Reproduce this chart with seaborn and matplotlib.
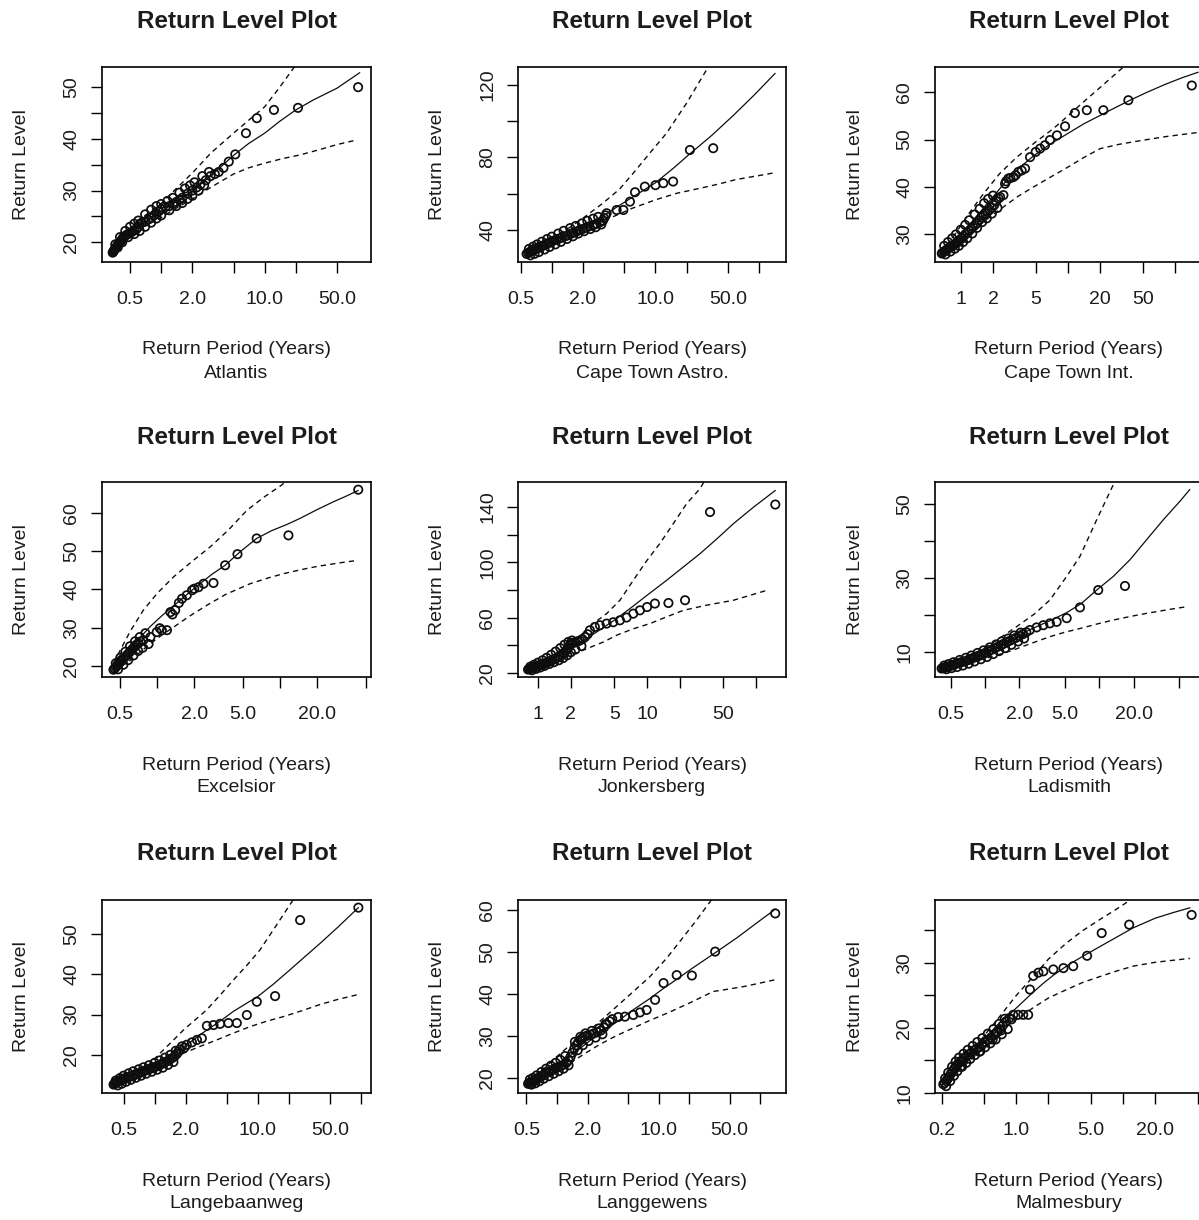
import matplotlib
matplotlib.use("Agg")
import matplotlib.pyplot as plt
from matplotlib.ticker import NullLocator
import seaborn as sns
import pandas as pd

# ---------------- data ----------------
stations = ["Atlantis", "Cape Town Astro.", "Cape Town Int.",
            "Excelsior", "Jonkersberg", "Ladismith",
            "Langebaanweg", "Langgewens", "Malmesbury"]

# Atlantis
atl_obs_T = [0.34, 0.345, 0.35, 0.355, 0.36, 0.37, 0.375, 0.38, 0.39, 0.40, 0.41, 0.42, 0.43, 0.44, 0.46,
             0.48, 0.50, 0.52, 0.55, 0.58, 0.60, 0.62, 0.65, 0.70, 0.75, 0.80, 0.85, 0.90, 0.95, 1.0,
             1.1, 1.2, 1.3, 1.4, 1.5, 1.6, 1.8, 2.0, 2.2, 2.4, 2.7, 3.0, 3.3, 3.6, 4.0,
             4.5, 5.2, 6.6, 8.4, 12.3, 21, 80]
atl_obs_y = [18.0, 18.2, 18.4, 18.6, 18.8, 19.0, 19.3, 19.5, 19.8, 20.0, 20.3, 20.6, 20.9, 21.1, 21.4,
             21.6, 21.8, 22.0, 22.3, 22.6, 23.0, 23.5, 23.8, 24.0, 24.4, 24.8, 25.2, 25.6, 26.0, 26.4,
             26.8, 27.0, 27.4, 27.8, 28.2, 28.6, 29.4, 30.0, 30.6, 31.2, 32.0, 32.8, 33.2, 33.6, 34.4,
             35.6, 37.0, 41.1, 44.0, 45.6, 46.0, 50.0]
atl_band_T = [0.36, 0.40, 0.45, 0.5, 0.55, 0.6, 0.7, 0.8, 0.9, 1.0, 1.15, 1.3, 1.5, 1.7, 1.9, 2.1, 2.5, 2.9,
              0.38, 0.42, 0.48, 0.55, 0.62, 0.7, 0.8, 0.9, 1.0, 1.2, 1.4, 1.6, 1.8, 2.0, 2.3, 2.6]
atl_band_y = [19.6, 21.0, 22.2, 23.0, 23.6, 24.2, 25.4, 26.3, 27.0, 27.4, 28.0, 28.6, 29.6, 30.4, 31.0, 31.6, 32.8, 33.6,
              19.0, 20.0, 21.0, 21.6, 22.2, 23.0, 23.8, 24.6, 25.2, 26.2, 27.0, 27.6, 28.4, 29.0, 30.0, 31.0]
atl_fit_T = [0.34, 0.4, 0.5, 0.7, 1, 1.4, 2, 3, 5, 7, 10, 14, 20, 30, 50, 83]
atl_fit_y = [18.1, 19.4, 21.6, 23.9, 25.9, 27.9, 29.9, 32.8, 36.8, 39.1, 41.1, 43.4, 45.6, 47.6, 49.8, 52.8]
atl_up_T = [0.34, 0.5, 0.7, 1, 1.4, 2, 3, 5, 7, 10, 14, 20, 40, 83]
atl_up_y = [18.3, 22.5, 25.2, 27.5, 30.4, 33.4, 37.2, 41.1, 43.6, 46.2, 50.0, 54.3, 64.0, 78.0]
atl_lo_T = [0.34, 0.5, 0.7, 1, 1.4, 2, 3, 5, 7, 10, 15, 22, 35, 50, 78]
atl_lo_y = [17.9, 21.2, 23.2, 24.8, 26.6, 28.4, 30.6, 33.2, 34.4, 35.3, 36.2, 36.9, 38.0, 38.9, 39.8]

# Cape Town Astro.
cta_obs_T = [0.57, 0.59, 0.61, 0.63, 0.65, 0.67, 0.70, 0.73, 0.76, 0.80, 0.84, 0.88, 0.93, 0.98, 1.03,
             1.1, 1.17, 1.25, 1.33, 1.42, 1.52, 1.62, 1.74, 1.87, 2.0, 2.15, 2.3, 2.5, 2.7, 2.9,
             3.1, 3.2, 3.3, 3.38, 4.22, 4.9, 5.67, 6.35, 7.9, 10, 11.9, 14.8, 21.5, 36.1]
cta_obs_y = [26.8, 27.3, 27.8, 28.2, 28.6, 29.0, 29.5, 30.0, 30.5, 31.0, 31.6, 32.2, 32.8, 33.4, 34.0,
             34.6, 35.2, 35.8, 36.4, 37.0, 37.8, 38.5, 39.2, 40.0, 40.6, 41.3, 42.0, 42.6, 43.4, 44.2,
             45.0, 46.5, 48.0, 49.2, 51.0, 51.0, 55.6, 60.8, 63.9, 64.7, 65.8, 66.7, 84.1, 85.1]
cta_band_T = [0.6, 0.66, 0.72, 0.8, 0.9, 1.0, 1.15, 1.3, 1.5, 1.7, 1.95, 2.2, 2.5, 2.8,
              0.62, 0.68, 0.75, 0.85, 0.95, 1.08, 1.22, 1.4, 1.6, 1.8, 2.05, 2.35, 2.65, 3.0]
cta_band_y = [29.5, 30.8, 32.0, 33.5, 35.0, 36.3, 38.0, 39.5, 41.0, 42.2, 43.6, 45.0, 46.2, 47.2,
              26.0, 26.8, 27.8, 29.2, 30.6, 32.0, 33.4, 35.0, 36.5, 38.0, 39.3, 40.5, 41.5, 43.0]
cta_fit_T = [0.57, 1, 2, 3, 4.2, 6.5, 10, 15, 21.5, 35, 56, 90, 143]
cta_fit_y = [26.8, 33.4, 41.2, 47.0, 52.5, 59.3, 66.0, 74.2, 82.0, 92.2, 103.0, 114.5, 126.4]
cta_up_T = [0.57, 1, 1.5, 2, 3.1, 4.5, 6.1, 9, 12.8, 20, 32.4, 60, 143]
cta_up_y = [27.2, 35.5, 41.5, 46.5, 54.7, 62.5, 71.3, 83.0, 93.4, 110.0, 130.0, 160.0, 215.0]
cta_lo_T = [0.57, 1, 1.5, 2, 2.8, 3.9, 6, 10, 16, 27, 40, 60, 100, 143]
cta_lo_y = [26.4, 32.3, 36.5, 39.8, 43.8, 47.3, 52.0, 56.6, 60.2, 63.0, 65.2, 67.8, 70.0, 71.6]

# Cape Town Int.
cti_obs_T = [0.665, 0.68, 0.70, 0.72, 0.74, 0.76, 0.78, 0.80, 0.83, 0.86, 0.89, 0.92, 0.95, 0.98, 1.02,
             1.06, 1.10, 1.15, 1.2, 1.25, 1.3, 1.36, 1.42, 1.48, 1.55, 1.62, 1.7, 1.78, 1.86, 1.95,
             2.05, 2.15, 2.25, 2.33, 2.5, 2.59, 2.78, 3.1, 3.45, 3.98, 4.43, 5.0, 5.5, 6.1, 6.8,
             7.9, 9.4, 11.6, 15, 21.4, 36.6, 143, 2.65, 2.9, 3.25, 3.7]
cti_obs_y = [26.0, 26.2, 26.4, 26.6, 26.8, 27.0, 27.2, 27.4, 27.6, 27.8, 28.0, 28.3, 28.6, 28.9, 29.2,
             29.6, 30.0, 30.4, 30.8, 31.2, 31.6, 32.0, 32.4, 33.0, 33.6, 34.0, 34.4, 34.8, 35.2, 35.6,
             36.2, 37.0, 37.6, 37.9, 38.3, 40.7, 41.8, 42.1, 43.2, 43.9, 46.3, 47.4, 48.1, 48.8, 49.9,
             50.9, 52.8, 55.6, 56.2, 56.2, 58.3, 61.4, 41.2, 41.9, 42.5, 43.5]
cti_band_T = [0.7, 0.76, 0.83, 0.9, 1.0, 1.1, 1.2, 1.35, 1.5, 1.65, 1.8, 2.0,
              0.72, 0.8, 0.88, 0.96, 1.05, 1.15, 1.28, 1.42, 1.58, 1.75, 1.95, 2.2]
cti_band_y = [27.6, 28.4, 29.2, 30.0, 31.0, 32.0, 33.0, 34.2, 35.4, 36.6, 37.5, 38.2,
              25.8, 26.4, 27.0, 27.6, 28.4, 29.2, 30.2, 31.4, 32.6, 33.4, 34.4, 35.6]
cti_fit_T = [0.665, 0.8, 1, 1.25, 1.63, 2.1, 2.7, 3.5, 4.8, 7, 10, 14, 20, 28, 38, 55, 80, 115, 164]
cti_fit_y = [26.0, 28.0, 30.2, 32.4, 35.6, 38.5, 41.5, 44.0, 46.6, 49.2, 51.3, 53.3, 55.1, 56.8, 58.3, 60.0,
             61.6, 63.0, 64.2]
cti_up_T = [0.665, 0.85, 1.2, 1.63, 2.3, 3.33, 5, 7.3, 10, 13.9, 20, 32.9, 80, 164]
cti_up_y = [26.2, 29.5, 34.5, 38.6, 42.8, 46.3, 49.5, 52.3, 55.0, 57.9, 61.0, 65.3, 75.0, 82.0]
cti_lo_T = [0.665, 1, 1.3, 1.6, 2.0, 2.5, 3.4, 4.76, 7, 10, 14, 20, 30, 40, 80, 164]
cti_lo_y = [25.8, 29.0, 31.0, 32.5, 34.2, 35.8, 38.0, 40.0, 42.2, 44.2, 46.2, 48.1, 49.0, 49.5, 50.6, 51.5]

# Excelsior
exc_obs_T = [0.44, 0.45, 0.46, 0.47, 0.48, 0.49, 0.50, 0.51, 0.53, 0.55, 0.57, 0.59, 0.61, 0.63, 0.65,
             0.67, 0.70, 0.73, 0.77, 0.88, 0.99, 1.09, 1.2, 1.28, 1.4, 1.59, 1.74, 1.92, 2.17, 2.38,
             2.87, 3.57, 4.5, 6.45, 11.7, 43.3, 1.05, 1.33, 1.5, 2.0]
exc_obs_y = [19.1, 19.4, 19.8, 20.1, 20.4, 20.8, 21.2, 21.6, 22.0, 22.5, 23.0, 23.5, 24.0, 24.5, 25.0,
             25.5, 26.0, 26.4, 26.8, 27.6, 28.9, 29.4, 29.4, 34.1, 34.6, 37.6, 38.5, 39.8, 40.6, 41.5,
             41.7, 46.3, 49.2, 53.3, 54.1, 66.0, 29.9, 33.5, 36.5, 40.2]
exc_band_T = [0.46, 0.5, 0.55, 0.6, 0.66, 0.72, 0.8, 0.48, 0.53, 0.58, 0.64, 0.7, 0.76, 0.85]
exc_band_y = [20.8, 22.2, 23.8, 25.2, 26.5, 27.6, 28.6, 19.2, 20.4, 21.6, 22.8, 24.0, 24.8, 25.8]
exc_fit_T = [0.44, 0.5, 0.57, 0.65, 0.73, 0.88, 1.06, 1.28, 1.54, 1.85, 2.23, 2.8, 3.57, 4.8, 6.45, 8.5,
             11.3, 14.5, 20, 27, 35, 43.3]
exc_fit_y = [19.1, 21.3, 23.3, 25.5, 27.6, 30.4, 32.8, 35.1, 37.2, 39.4, 41.5, 44.0, 46.3, 50.0, 53.3, 55.3,
             56.9, 58.5, 60.8, 62.8, 64.4, 65.8]
exc_up_T = [0.44, 0.5, 0.6, 0.77, 1.0, 1.36, 1.9, 2.7, 3.8, 5.36, 7.5, 10.3, 20, 43.3]
exc_up_y = [20.8, 24.2, 29.0, 34.6, 39.0, 43.3, 47.2, 51.1, 55.5, 60.6, 64.2, 67.2, 76.0, 86.0]
exc_lo_T = [0.44, 0.6, 0.88, 1.1, 1.36, 1.8, 2.54, 3.6, 5.7, 8, 10.6, 15, 20, 30, 43.3]
exc_lo_y = [18.6, 21.5, 25.9, 28.2, 30.2, 32.9, 35.9, 38.7, 41.5, 43.0, 44.1, 45.2, 46.0, 46.9, 47.6]

# Jonkersberg
jon_obs_T = [0.81, 0.83, 0.85, 0.87, 0.89, 0.91, 0.94, 0.97, 1.0, 1.03, 1.07, 1.11, 1.15, 1.2, 1.25,
             1.3, 1.36, 1.42, 1.5, 1.57, 1.64, 1.72, 1.8, 1.88, 1.95, 2.02, 2.1, 2.2, 2.3, 2.42,
             2.55, 2.7, 2.85, 2.99, 3.32, 3.69, 4.25, 4.89, 5.64, 6.49, 7.47, 8.6, 10, 11.8, 15.7,
             22.3, 37.8, 150]
jon_obs_y = [22.5, 22.8, 23.1, 23.4, 23.7, 24.0, 24.3, 24.7, 25.0, 25.4, 25.8, 26.3, 26.8, 27.4, 28.0,
             28.7, 29.4, 30.2, 31.0, 32.0, 33.2, 34.5, 36.0, 38.0, 40.0, 41.2, 41.8, 42.2, 42.8, 43.5,
             44.5, 46.0, 48.0, 50.9, 53.3, 54.5, 55.7, 56.7, 58.1, 60.1, 62.9, 65.3, 67.7, 70.2, 70.6,
             72.6, 136.4, 141.8]
jon_band_T = [0.85, 0.92, 1.0, 1.1, 1.2, 1.32, 1.45, 1.6, 1.75, 1.9, 2.05,
              0.88, 0.96, 1.05, 1.15, 1.27, 1.4, 1.55, 1.7, 1.85, 2.0, 2.2, 2.5]
jon_band_y = [24.6, 26.0, 27.5, 29.2, 31.0, 33.2, 35.5, 38.0, 40.5, 42.5, 43.5,
              22.0, 23.0, 24.0, 25.2, 26.5, 27.8, 29.2, 30.8, 32.8, 35.0, 37.0, 39.5]
jon_fit_T = [0.81, 1, 1.25, 1.5, 2, 2.8, 4, 5.25, 7.5, 10, 15.1, 21, 30.6, 43, 62, 95, 150]
jon_fit_y = [22.5, 25.5, 28.8, 32.0, 38.0, 45.0, 53.0, 59.3, 68.5, 76.2, 87.0, 96.0, 106.3, 116.5, 128.0,
             140.0, 152.0]
jon_up_T = [0.81, 1.2, 1.82, 2.42, 3.2, 4.25, 5.64, 7.47, 10, 13.1, 17.4, 23.1, 30.6, 62, 150]
jon_up_y = [23.0, 29.5, 39.0, 46.0, 55.7, 62.9, 72.6, 87.0, 101.5, 113.6, 128.0, 142.5, 153.3, 195.0, 260.0]
jon_lo_T = [0.81, 1.2, 1.8, 2.79, 4, 5.25, 7.5, 10.6, 15, 21.5, 35, 62, 126]
jon_lo_y = [22.0, 27.0, 31.5, 37.5, 42.5, 47.3, 52.0, 55.7, 60.5, 65.3, 69.0, 72.6, 79.8]

# Ladismith
lad_obs_T = [0.417, 0.43, 0.44, 0.45, 0.46, 0.48, 0.50, 0.52, 0.54, 0.56, 0.59, 0.62, 0.66, 0.70, 0.74,
             0.78, 0.82, 0.87, 0.92, 0.97, 1.02, 1.08, 1.15, 1.22, 1.3, 1.38, 1.46, 1.55, 1.65, 1.75,
             1.87, 2.0, 2.15, 2.3, 2.47, 2.83, 3.24, 3.7, 4.24, 5.19, 6.78, 9.8, 16.8]
lad_obs_y = [5.5, 5.6, 5.7, 5.8, 5.9, 6.0, 6.2, 6.4, 6.6, 6.8, 7.0, 7.2, 7.4, 7.7, 8.0,
             8.3, 8.6, 8.9, 9.2, 9.5, 9.8, 10.2, 10.6, 11.0, 11.4, 11.8, 12.2, 12.6, 13.0, 13.4,
             13.8, 14.3, 14.8, 15.3, 15.9, 16.6, 17.2, 17.7, 18.1, 19.1, 22.0, 26.7, 27.8]
lad_band_T = [0.44, 0.48, 0.53, 0.6, 0.68, 0.76, 0.86, 0.97, 1.1, 1.25, 1.4, 1.6, 1.8, 2.05,
              0.46, 0.51, 0.57, 0.64, 0.72, 0.81, 0.92, 1.04, 1.18, 1.33, 1.5, 1.7, 1.95, 2.2]
lad_band_y = [6.3, 6.7, 7.2, 7.8, 8.4, 9.0, 9.7, 10.4, 11.2, 12.0, 12.8, 13.6, 14.4, 15.2,
              5.3, 5.6, 5.9, 6.3, 6.8, 7.4, 8.0, 8.6, 9.4, 10.2, 11.0, 11.9, 12.8, 13.6]
lad_fit_T = [0.417, 0.5, 0.69, 1.0, 1.35, 1.9, 2.64, 3.7, 5.19, 7.0, 9.5, 13.3, 18.6, 26, 36.4, 50.9, 62.2]
lad_fit_y = [5.5, 6.2, 7.7, 10.0, 12.2, 14.3, 16.4, 18.4, 20.6, 23.1, 26.7, 30.4, 34.9, 40.3, 45.7, 50.7, 53.9]
lad_up_T = [0.417, 0.6, 0.93, 1.3, 1.89, 2.7, 3.7, 5.19, 6.78, 9.5, 13.3, 20, 62.2]
lad_up_y = [5.6, 7.6, 10.5, 13.4, 16.8, 20.2, 24.0, 30.4, 35.8, 45.7, 55.2, 72.0, 140.0]
lad_lo_T = [0.417, 0.6, 0.9, 1.3, 1.77, 2.6, 3.7, 5.0, 6.78, 9.5, 13.3, 19, 26, 40, 58.3]
lad_lo_y = [5.4, 6.5, 7.8, 9.2, 10.5, 12.4, 14.1, 15.3, 16.3, 17.5, 18.6, 19.6, 20.4, 21.4, 22.2]

# Langebaanweg
lgb_obs_T = [0.40, 0.41, 0.42, 0.43, 0.44, 0.46, 0.48, 0.50, 0.52, 0.55, 0.58, 0.61, 0.64, 0.68, 0.72,
             0.76, 0.80, 0.85, 0.90, 0.95, 1.0, 1.06, 1.12, 1.18, 1.25, 1.32, 1.4, 1.48, 1.56, 1.64,
             1.84, 2.05, 2.3, 2.57, 2.87, 3.21, 3.72, 4.31, 5.19, 6.26, 7.83, 9.78, 14.7, 25.7, 94.3,
             1.7, 1.75, 1.95]
lgb_obs_y = [12.6, 12.8, 13.0, 13.2, 13.4, 13.6, 13.8, 14.0, 14.2, 14.4, 14.6, 14.8, 15.0, 15.3, 15.5,
             15.8, 16.0, 16.3, 16.5, 16.7, 16.9, 17.2, 17.5, 17.8, 18.1, 18.4, 18.8, 19.2, 19.6, 20.2,
             22.1, 22.5, 23.1, 23.7, 24.1, 27.2, 27.4, 27.7, 27.9, 27.9, 29.9, 33.2, 34.6, 53.5, 56.6,
             20.8, 21.3, 21.8]
lgb_band_T = [0.42, 0.46, 0.5, 0.56, 0.62, 0.7, 0.78, 0.88, 1.0, 1.12, 1.26, 1.42, 1.6,
              0.44, 0.48, 0.53, 0.59, 0.66, 0.74, 0.83, 0.94, 1.06, 1.2, 1.35, 1.52]
lgb_band_y = [13.6, 14.2, 14.8, 15.4, 15.9, 16.4, 16.9, 17.4, 18.0, 18.6, 19.3, 20.0, 21.0,
              12.4, 12.8, 13.3, 13.8, 14.3, 14.8, 15.3, 15.8, 16.3, 16.8, 17.5, 18.2]
lgb_fit_T = [0.4, 0.5, 0.6, 0.73, 0.9, 1.1, 1.31, 1.7, 2.2, 2.76, 3.6, 4.6, 5.8, 8, 10, 14.2, 20, 28, 40.1,
             60, 94.3]
lgb_fit_y = [12.6, 13.7, 14.5, 15.5, 16.8, 17.9, 19.0, 21.0, 23.1, 25.0, 27.0, 28.9, 30.8, 33.0, 34.5, 37.6,
             40.9, 44.2, 47.7, 51.8, 56.6]
lgb_up_T = [0.4, 0.55, 0.7, 0.9, 1.13, 1.5, 1.91, 2.5, 3.2, 4.3, 5.8, 7.8, 10.5, 14.5, 21.3, 40, 94.3]
lgb_up_y = [12.7, 14.2, 15.5, 17.8, 20.4, 23.5, 26.2, 28.8, 31.2, 34.8, 38.6, 42.2, 46.1, 51.5, 58.0, 70.0, 92.0]
lgb_lo_T = [0.4, 0.55, 0.7, 0.9, 1.2, 1.5, 1.91, 2.7, 4.0, 5.8, 8.4, 12, 17.7, 27, 40, 60, 94.3]
lgb_lo_y = [12.5, 13.4, 14.2, 15.8, 17.5, 19.0, 20.4, 22.0, 23.7, 25.4, 27.0, 28.3, 29.5, 31.0, 32.5, 33.8, 35.0]

# Langgewens
lgw_obs_T = [0.519, 0.53, 0.54, 0.55, 0.56, 0.58, 0.60, 0.62, 0.65, 0.68, 0.71, 0.74, 0.78, 0.82, 0.87,
             0.92, 0.97, 1.03, 1.1, 1.17, 1.24, 1.3, 1.36, 1.42, 1.48, 1.55, 1.62, 1.7, 1.78, 1.88,
             2.0, 2.15, 2.3, 2.5, 2.7, 2.9, 3.1, 3.3, 3.5, 4.0, 4.67, 5.64, 6.56, 7.64, 9.25,
             11.2, 15.1, 21.3, 36.1, 141]
lgw_obs_y = [18.6, 18.7, 18.8, 18.9, 19.0, 19.2, 19.4, 19.6, 19.9, 20.2, 20.5, 20.8, 21.1, 21.4, 21.7,
             22.0, 22.3, 22.6, 22.9, 23.2, 23.6, 24.2, 25.0, 26.0, 27.0, 27.8, 28.5, 29.0, 29.5, 29.9,
             30.1, 30.3, 30.6, 30.9, 31.3, 32.0, 32.8, 33.5, 34.0, 34.5, 34.6, 35.0, 35.6, 36.2, 38.6,
             42.6, 44.5, 44.4, 50.1, 59.2]
lgw_band_T = [0.54, 0.58, 0.63, 0.7, 0.78, 0.87, 0.97, 1.08, 1.2, 1.5, 1.7, 1.9, 2.2, 2.6, 3.0,
              0.56, 0.61, 0.67, 0.74, 0.83, 0.93, 1.04, 1.16, 1.3, 1.6, 1.8, 2.05, 2.4, 2.8]
lgw_band_y = [19.6, 20.0, 20.6, 21.4, 22.2, 22.9, 23.6, 24.3, 25.2, 28.6, 29.8, 30.6, 31.2, 31.8, 32.8,
              18.4, 18.7, 19.2, 19.8, 20.4, 21.0, 21.6, 22.2, 23.0, 26.6, 27.8, 28.8, 29.6, 30.4]
lgw_fit_T = [0.519, 0.6, 0.675, 0.8, 0.99, 1.3, 1.81, 2.6, 3.86, 5.6, 8.2, 11, 15.1, 22, 37.6, 60, 90, 141]
lgw_fit_y = [18.6, 19.3, 20.2, 21.3, 22.8, 25.0, 27.6, 30.6, 33.3, 36.2, 38.9, 41.2, 43.5, 46.3, 50.1, 53.5,
             56.7, 60.2]
lgw_up_T = [0.519, 0.7, 0.916, 1.3, 1.96, 2.8, 3.86, 5.6, 8.2, 12, 17.6, 24, 32.2, 60, 141]
lgw_up_y = [18.8, 21.6, 24.3, 27.5, 30.7, 34.0, 37.0, 40.5, 44.1, 48.5, 53.6, 57.8, 62.0, 72.0, 88.0]
lgw_lo_T = [0.519, 0.7, 0.9, 1.15, 1.44, 2.0, 2.65, 3.8, 5.64, 8.2, 12.1, 20, 34.7, 50, 70, 100, 141]
lgw_lo_y = [18.4, 20.0, 21.5, 22.8, 24.0, 26.2, 28.0, 30.0, 31.9, 33.7, 35.4, 37.8, 40.6, 41.2, 41.8, 42.6, 43.4]

# Malmesbury
mal_obs_T = [0.207, 0.213, 0.22, 0.227, 0.235, 0.243, 0.252, 0.262, 0.272, 0.283, 0.295, 0.31, 0.325, 0.34, 0.36,
             0.38, 0.40, 0.42, 0.45, 0.48, 0.51, 0.54, 0.58, 0.62, 0.66, 0.70, 0.75, 0.80, 0.86, 0.935,
             1.04, 1.16, 1.29, 1.34, 1.44, 1.61, 1.79, 2.22, 2.76, 3.41, 4.6, 6.3, 11.4, 43.8,
             0.30, 0.45, 0.60, 0.72, 0.90]
mal_obs_y = [11.3, 11.5, 11.8, 12.1, 12.5, 12.9, 13.3, 13.7, 14.1, 14.4, 14.7, 15.0, 15.3, 15.6, 15.9,
             16.2, 16.5, 16.7, 17.0, 17.4, 17.8, 18.1, 18.5, 18.9, 19.3, 19.8, 20.4, 21.0, 21.5, 22.0,
             22.0, 22.0, 22.0, 25.9, 28.0, 28.5, 28.7, 29.0, 29.2, 29.5, 31.1, 34.6, 35.9, 37.4,
             14.0, 16.3, 18.2, 19.6, 21.3]
mal_band_T = [0.215, 0.23, 0.25, 0.27, 0.29, 0.32, 0.35, 0.39, 0.43, 0.48, 0.54, 0.61, 0.69, 0.78,
              0.22, 0.24, 0.26, 0.28, 0.31, 0.34, 0.37, 0.41, 0.46, 0.51, 0.57, 0.64, 0.73, 0.83]
mal_band_y = [12.2, 13.1, 14.0, 14.8, 15.4, 16.0, 16.6, 17.2, 17.8, 18.4, 19.1, 19.8, 20.6, 21.4,
              11.0, 11.8, 12.6, 13.3, 14.0, 14.6, 15.2, 15.8, 16.4, 17.0, 17.6, 18.2, 19.0, 19.8]
mal_fit_T = [0.207, 0.25, 0.297, 0.4, 0.527, 0.7, 0.935, 1.15, 1.44, 1.8, 2.22, 3.2, 4.6, 7, 12.4, 20, 30, 42.3]
mal_fit_y = [11.3, 12.8, 14.1, 16.5, 18.7, 20.8, 22.6, 24.0, 25.5, 26.9, 28.1, 29.9, 31.4, 33.1, 35.4, 36.9,
             37.8, 38.5]
mal_up_T = [0.207, 0.25, 0.343, 0.5, 0.703, 1.0, 1.44, 2.0, 2.96, 4.2, 6.07, 8.5, 11.2, 20, 42.3]
mal_up_y = [11.4, 12.9, 15.1, 18.8, 21.8, 25.0, 27.9, 30.6, 33.1, 35.0, 36.7, 38.2, 39.5, 42.3, 45.5]
mal_lo_T = [0.207, 0.3, 0.4, 0.56, 0.813, 1.1, 1.44, 2.0, 2.96, 4.2, 6.07, 8.5, 12.4, 20, 42.3]
mal_lo_y = [11.2, 13.6, 15.5, 17.9, 20.2, 21.8, 23.1, 24.6, 25.9, 27.0, 27.9, 28.7, 29.5, 30.1, 30.7]

# axis ticks per panel
xt_a = [0.5, 1, 2, 5, 10, 20, 50]
xl_a = ["0.5", "", "2.0", "", "10.0", "", "50.0"]
xt_b = [0.5, 1, 2, 5, 10, 20, 50, 100]
xl_b = ["0.5", "", "2.0", "", "10.0", "", "50.0", ""]
xt_c = [1, 2, 5, 10, 20, 50, 100]
xl_c = ["1", "2", "5", "", "20", "50", ""]
xl_d = ["0.5", "", "2.0", "5.0", "", "20.0", ""]
xl_e = ["1", "2", "5", "10", "", "50", ""]
xt_f = [0.2, 0.5, 1, 2, 5, 10, 20, 50]
xl_f = ["0.2", "", "1.0", "", "5.0", "", "20.0", ""]

# ---------------- layout (pixels) ----------------
W, H = 1199, 1220
col_L = [102, 518, 935]
col_R = [371, 786, 1203]
row_T = [67, 482, 900]
row_B = [262, 677, 1093]
title_y = [21, 438, 853]

panels = [
    dict(obs=(atl_obs_T + atl_band_T, atl_obs_y + atl_band_y), fit=(atl_fit_T, atl_fit_y),
         up=(atl_up_T, atl_up_y), lo=(atl_lo_T, atl_lo_y),
         xlim=(0.268, 106.6), ylim=(16.19, 53.9), xt=xt_a, xl=xl_a,
         yt=[20, 25, 30, 35, 40, 45, 50], yl=["20", "", "30", "", "40", "", "50"]),
    dict(obs=(cta_obs_T + cta_band_T, cta_obs_y + cta_band_y), fit=(cta_fit_T, cta_fit_y),
         up=(cta_up_T, cta_up_y), lo=(cta_lo_T, cta_lo_y),
         xlim=(0.471, 182), ylim=(22.3, 129.9), xt=xt_b, xl=xl_b,
         yt=[40, 60, 80, 100, 120], yl=["40", "", "80", "", "120"]),
    dict(obs=(cti_obs_T + cti_band_T, cti_obs_y + cti_band_y), fit=(cti_fit_T, cti_fit_y),
         up=(cti_up_T, cti_up_y), lo=(cti_lo_T, cti_lo_y),
         xlim=(0.575, 182), ylim=(24.2, 65.3), xt=xt_c, xl=xl_c,
         yt=[30, 40, 50, 60], yl=["30", "40", "50", "60"]),
    dict(obs=(exc_obs_T + exc_band_T, exc_obs_y + exc_band_y), fit=(exc_fit_T, exc_fit_y),
         up=(exc_up_T, exc_up_y), lo=(exc_lo_T, exc_lo_y),
         xlim=(0.355, 55), ylim=(17.2, 68.0), xt=xt_a, xl=xl_d,
         yt=[20, 30, 40, 50, 60], yl=["20", "30", "40", "50", "60"]),
    dict(obs=(jon_obs_T + jon_band_T, jon_obs_y + jon_band_y), fit=(jon_fit_T, jon_fit_y),
         up=(jon_up_T, jon_up_y), lo=(jon_lo_T, jon_lo_y),
         xlim=(0.655, 188), ylim=(17.1, 158.1), xt=xt_c, xl=xl_e,
         yt=[20, 40, 60, 80, 100, 120, 140], yl=["20", "", "60", "", "100", "", "140"]),
    dict(obs=(lad_obs_T + lad_band_T, lad_obs_y + lad_band_y), fit=(lad_fit_T, lad_fit_y),
         up=(lad_up_T, lad_up_y), lo=(lad_lo_T, lad_lo_y),
         xlim=(0.365, 81), ylim=(3.2, 55.9), xt=xt_a, xl=xl_d,
         yt=[10, 20, 30, 40, 50], yl=["10", "", "30", "", "50"]),
    dict(obs=(lgb_obs_T + lgb_band_T, lgb_obs_y + lgb_band_y), fit=(lgb_fit_T, lgb_fit_y),
         up=(lgb_up_T, lgb_up_y), lo=(lgb_lo_T, lgb_lo_y),
         xlim=(0.309, 125), ylim=(10.5, 58.5), xt=xt_b, xl=xl_b,
         yt=[20, 30, 40, 50], yl=["20", "30", "40", "50"]),
    dict(obs=(lgw_obs_T + lgw_band_T, lgw_obs_y + lgw_band_y), fit=(lgw_fit_T, lgw_fit_y),
         up=(lgw_up_T, lgw_up_y), lo=(lgw_lo_T, lgw_lo_y),
         xlim=(0.413, 180), ylim=(16.4, 62.4), xt=xt_b, xl=xl_b,
         yt=[20, 30, 40, 50, 60], yl=["20", "30", "40", "50", "60"]),
    dict(obs=(mal_obs_T + mal_band_T, mal_obs_y + mal_band_y), fit=(mal_fit_T, mal_fit_y),
         up=(mal_up_T, mal_up_y), lo=(mal_lo_T, mal_lo_y),
         xlim=(0.173, 56), ylim=(9.95, 39.7), xt=xt_f, xl=xl_f,
         yt=[10, 15, 20, 25, 30, 35], yl=["10", "", "20", "", "30", ""]),
]

# ---------------- drawing ----------------
sns.set_theme(style="white")
plt.rcParams['font.family'] = ['Liberation Sans', 'DejaVu Sans']
TXT = "#1c1c1c"
INK = "#0d0d0d"

fig = plt.figure(figsize=(W / 100, H / 100), dpi=100)
fig.patch.set_facecolor("white")

DASH = (0, (3.8, 3.0))

for i, p in enumerate(panels):
    r, c = divmod(i, 3)
    L, R, T, B = col_L[c], col_R[c], row_T[r], row_B[r]
    ax = fig.add_axes([L / W, 1 - B / H, (R - L) / W, (B - T) / H])
    ax.set_facecolor("white")
    ax.set_xscale("log")

    obs = pd.DataFrame({"T": p["obs"][0], "level": p["obs"][1]})
    fit = pd.DataFrame({"T": p["fit"][0], "level": p["fit"][1]})
    up = pd.DataFrame({"T": p["up"][0], "level": p["up"][1]})
    lo = pd.DataFrame({"T": p["lo"][0], "level": p["lo"][1]})

    sns.lineplot(data=fit, x="T", y="level", ax=ax, color=INK, lw=0.9, estimator=None)
    sns.lineplot(data=up, x="T", y="level", ax=ax, color=INK, lw=1.0, linestyle=DASH, estimator=None)
    sns.lineplot(data=lo, x="T", y="level", ax=ax, color=INK, lw=1.0, linestyle=DASH, estimator=None)
    sns.scatterplot(data=obs, x="T", y="level", ax=ax, marker="o", s=36, zorder=3)
    coll = ax.collections[-1]
    coll.set_facecolor("none")
    coll.set_edgecolor(INK)
    coll.set_linewidth(1.25)

    ax.set_xlim(*p["xlim"])
    ax.set_ylim(*p["ylim"])
    ax.set_xticks(p["xt"])
    ax.set_xticklabels(p["xl"])
    ax.xaxis.set_minor_locator(NullLocator())
    ax.set_yticks(p["yt"])
    ax.set_yticklabels(p["yl"], rotation=90, va="center")
    ax.yaxis.set_minor_locator(NullLocator())
    ax.set_xlabel("")
    ax.set_ylabel("")
    ax.grid(False)
    for s in ax.spines.values():
        s.set_visible(True)
        s.set_color("black")
        s.set_linewidth(1.2)
    ax.tick_params(axis="both", which="major", direction="out", length=8, width=1.0,
                   color="black", labelsize=14, labelcolor=TXT,
                   bottom=True, left=True, top=False, right=False)
    ax.tick_params(axis="x", pad=13)
    ax.tick_params(axis="y", pad=7.5)

    cx = (L + R) / 2
    fig.text(cx / W, 1 - title_y[r] / H, "Return Level Plot", ha="center", va="center",
             fontsize=17.5, fontweight="bold", color=TXT)
    fig.text(cx / W, 1 - (B + 88) / H, "Return Period (Years)", ha="center", va="center",
             fontsize=14, color=TXT)
    fig.text(cx / W, 1 - (B + 111) / H, stations[i], ha="center", va="center",
             fontsize=14, color=TXT)
    fig.text((L - 80) / W, 1 - ((T + B) / 2) / H, "Return Level", ha="center", va="center",
             rotation=90, fontsize=14, color=TXT)

fig.savefig("out.png", dpi=100, facecolor="white")
